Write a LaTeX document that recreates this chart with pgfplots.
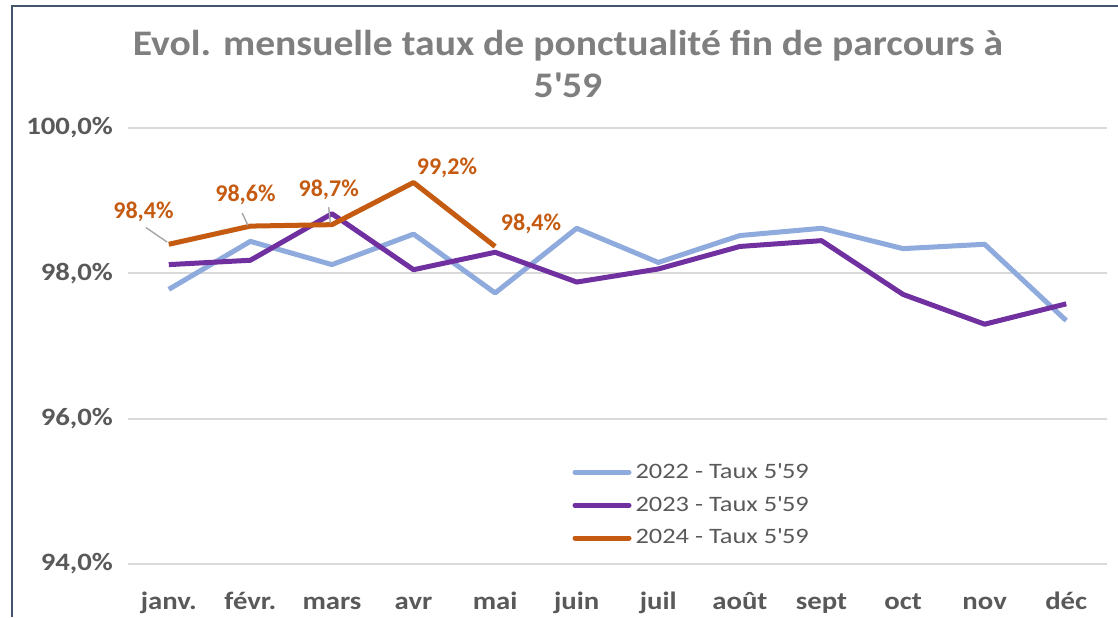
\documentclass[border=0pt]{standalone}
\usepackage{pgfplots}
\pgfplotsset{compat=1.18}
\usepackage{fontspec}
\setmainfont{Carlito}
\newfontfamily\tickfont[FakeStretch=1.15]{Carlito}
\newfontfamily\legfont[FakeStretch=1.2]{Carlito}
\newfontfamily\titlefont[FakeStretch=1.1]{Carlito}
\definecolor{c22}{HTML}{8FAADC}
\definecolor{c23}{HTML}{7030A0}
\definecolor{c24}{HTML}{C55A11}
\definecolor{txt}{HTML}{595959}
\definecolor{ttl}{HTML}{7F7F7F}
\definecolor{grd}{HTML}{D9D9D9}
\definecolor{frm}{HTML}{44546A}
\begin{document}
\begin{tikzpicture}
% 1 px of the reference = 0.5pt
\useasboundingbox (-64pt,-26.5pt) rectangle (495pt,282pt);
\draw[frm, line width=1pt] (-58pt,-26.5pt) -- (-58pt,279pt) -- (495pt,279pt);
\begin{axis}[
    at={(0,0)}, anchor=south west,
    scale only axis, width=489.5pt, height=218pt,
    xmin=-0.5, xmax=11.5, ymin=94, ymax=100,
    clip=false,
    xtick={0,...,11},
    xticklabels={janv.,févr.,mars,avr,mai,juin,juil,août,sept,oct,nov,déc},
    ytick={94,96,98,100},
    yticklabels={{94,0\%},{96,0\%},{98,0\%},{100,0\%}},
    axis line style={draw=none}, major tick length=0pt,
    ymajorgrids, grid style={grd, line width=1pt},
    tick label style={font=\tickfont\fontsize{12.5}{14}\selectfont\bfseries, text=txt},
    yticklabel style={xshift=-4pt},
    xticklabel style={yshift=-12pt, text height=1.5ex, text depth=0.3ex},
    legend style={at={(0.4475,0.25)}, anchor=north west, draw=none, fill=none,
        font=\legfont\fontsize{11}{13}\selectfont, text=txt, row sep=3.5pt},
    legend cell align=left,
    legend image code/.code={\draw[#1, line cap=round] (0pt,0pt) -- (27pt,0pt);},
]
\addplot[c22, line width=2.5pt, line join=round] coordinates {
    (0,97.78)(1,98.44)(2,98.12)(3,98.54)(4,97.73)(5,98.62)
    (6,98.15)(7,98.52)(8,98.62)(9,98.34)(10,98.40)(11,97.35)
};
\addlegendentry{2022 - Taux 5\textquotesingle 59}
\addplot[c23, line width=2.5pt, line join=round] coordinates {
    (0,98.12)(1,98.18)(2,98.82)(3,98.05)(4,98.29)(5,97.88)
    (6,98.06)(7,98.37)(8,98.45)(9,97.71)(10,97.30)(11,97.58)
};
\addlegendentry{2023 - Taux 5\textquotesingle 59}
\addplot[c24, line width=2.5pt, line join=round] coordinates {
    (0,98.40)(1,98.65)(2,98.67)(3,99.25)(4,98.37)
};
\addlegendentry{2024 - Taux 5\textquotesingle 59}
% data labels
\draw[gray!70, line width=0.7pt] (axis cs:-0.28,98.63) -- (axis cs:-0.02,98.43);
\draw[gray!70, line width=0.7pt] (axis cs:0.90,98.83) -- (axis cs:0.97,98.66);
\draw[gray!70, line width=0.7pt] (axis cs:1.96,98.91) -- (axis cs:1.98,98.69);
\begin{scope}[every node/.style={font=\fontsize{12}{14}\selectfont\bfseries, text=c24}]
\node at (axis cs:-0.31,98.85) {98,4\%};
\node at (axis cs:0.94,99.08) {98,6\%};
\node at (axis cs:1.96,99.15) {98,7\%};
\node at (axis cs:3.41,99.45) {99,2\%};
\node at (axis cs:4.44,98.68) {98,4\%};
\end{scope}
\end{axis}
\node[font=\titlefont\fontsize{18}{18}\selectfont\bfseries, text=ttl, align=center]
    at (220pt,250pt) {Evol. mensuelle taux de ponctualité fin de parcours à\\[3pt]5\textquotesingle 59};
\end{tikzpicture}
\end{document}
